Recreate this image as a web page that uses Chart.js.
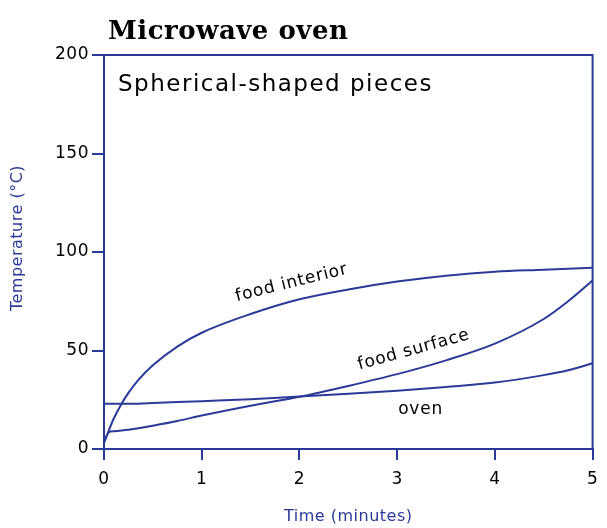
<!DOCTYPE html>
<html>
<head>
<meta charset="utf-8">
<script src="https://cdn.jsdelivr.net/npm/chart.js@4.4.1/dist/chart.umd.min.js"></script>
<style>
  html, body { margin: 0; padding: 0; background: #fff; }
  #wrap { width: 607px; height: 528px; }
</style>
</head>
<body>
<div id="wrap"><canvas id="chart" width="607" height="528"></canvas></div>
<script>
// time in minutes, temperature in °C
const times    = [0, 0.05, 0.1, 0.18, 0.25, 0.35, 0.5, 0.75, 1, 1.5, 2, 2.5, 3, 3.5, 4, 4.5, 4.75, 5];
const interior = [3, 9.5, 15.5, 23, 28.5, 35, 42.5, 52, 59, 68.5, 76, 81, 85, 88, 90, 91, 91.5, 92];
const surface  = [4, 8.5, 9, 9.4, 9.8, 10.5, 11.8, 14.2, 17, 22, 26.5, 32, 38, 45, 53.5, 66, 75, 85.5];
const oven     = [23, 23, 23, 23, 23, 23, 23.3, 23.8, 24.3, 25.3, 26.6, 28, 29.6, 31.5, 33.7, 37.5, 40, 43.5];

const xTicks = [0, 1, 2, 3, 4, 5];
const yTicks = [0, 50, 100, 150, 200];

// curve labels, placed in data units
const labelTexts = ["food interior", "food surface", "oven"];
const labelTimes = [1.92, 3.17, 3.24];
const labelTemps = [84.3, 50.3, 20];
const labelAngles = [-14, -15.5, 0];

const BLUE = "#2b3a98";
const toPoints = (ys) => times.map((t, i) => ({ x: t, y: ys[i] }));

const lineStyle = {
  borderColor: BLUE,
  borderWidth: 2,
  pointRadius: 0,
  fill: false,
  cubicInterpolationMode: "monotone",
};

// titles, box top/right and curve labels
const annotate = {
  id: "annotate",
  beforeDraw(chart) {
    chart.ctx.letterSpacing = "0.5px";
  },
  afterDatasetsDraw(chart) {
    const { ctx, chartArea: a, scales: { x, y } } = chart;
    ctx.save();

    ctx.strokeStyle = BLUE;
    ctx.lineWidth = 2;
    ctx.beginPath();
    ctx.moveTo(a.left, a.top);
    ctx.lineTo(a.right, a.top);
    ctx.lineTo(a.right, a.bottom);
    ctx.stroke();

    ctx.fillStyle = "#000";
    ctx.textBaseline = "alphabetic";
    ctx.textAlign = "left";
    ctx.letterSpacing = "0.5px";
    ctx.font = "bold 26px 'DejaVu Serif'";
    ctx.fillText("Microwave oven", a.left + 4, a.top - 16);

    ctx.letterSpacing = "1.5px";
    ctx.font = "23px 'DejaVu Sans'";
    ctx.fillText("Spherical-shaped pieces", a.left + 14, a.top + 36);

    ctx.letterSpacing = "0.8px";
    ctx.font = "17px 'DejaVu Sans'";
    ctx.textAlign = "center";
    ctx.textBaseline = "middle";
    labelTexts.forEach((txt, i) => {
      ctx.save();
      ctx.translate(x.getPixelForValue(labelTimes[i]), y.getPixelForValue(labelTemps[i]));
      ctx.rotate(labelAngles[i] * Math.PI / 180);
      ctx.fillText(txt, 0, 0);
      ctx.restore();
    });

    // y axis title sits a bit above the axis middle in the original
    ctx.letterSpacing = "0.5px";
    ctx.font = "16px 'DejaVu Sans'";
    ctx.fillStyle = BLUE;
    ctx.save();
    ctx.translate(18, (a.top + a.bottom) / 2 - 14);
    ctx.rotate(-Math.PI / 2);
    ctx.fillText("Temperature (°C)", 0, 0);
    ctx.restore();

    ctx.restore();
  },
};

new Chart(document.getElementById("chart"), {
  type: "line",
  data: {
    datasets: [
      { label: "food interior", data: toPoints(interior), ...lineStyle },
      { label: "food surface", data: toPoints(surface), ...lineStyle },
      { label: "oven", data: toPoints(oven), ...lineStyle },
    ],
  },
  options: {
    responsive: false,
    animation: false,
    devicePixelRatio: 1,
    layout: { padding: { top: 55, right: 12, left: 0, bottom: 0 } },
    plugins: {
      legend: { display: false },
      tooltip: { enabled: false },
    },
    scales: {
      x: {
        type: "linear",
        min: 0,
        max: 5,
        afterFit: (s) => { s.height = 79; },
        afterBuildTicks: (s) => { s.ticks = xTicks.map((v) => ({ value: v })); },
        border: { display: true, color: BLUE, width: 2 },
        grid: { display: true, drawOnChartArea: false, drawTicks: true, tickLength: 11, color: BLUE, lineWidth: 2 },
        ticks: { color: "#000", padding: 9, font: { family: "DejaVu Sans", size: 17 } },
        title: {
          display: true,
          text: "Time (minutes)",
          color: BLUE,
          font: { family: "DejaVu Sans", size: 16 },
          padding: { top: 0, bottom: 2 },
        },
      },
      y: {
        min: 0,
        max: 200,
        afterFit: (s) => { s.width = 104; },
        afterBuildTicks: (s) => { s.ticks = yTicks.map((v) => ({ value: v })); },
        border: { display: true, color: BLUE, width: 2 },
        grid: { display: true, drawOnChartArea: false, drawTicks: true, tickLength: 12, color: BLUE, lineWidth: 2 },
        ticks: { color: "#000", padding: 3, font: { family: "DejaVu Sans", size: 17 } },
      },
    },
  },
  plugins: [annotate],
});
</script>
</body>
</html>
